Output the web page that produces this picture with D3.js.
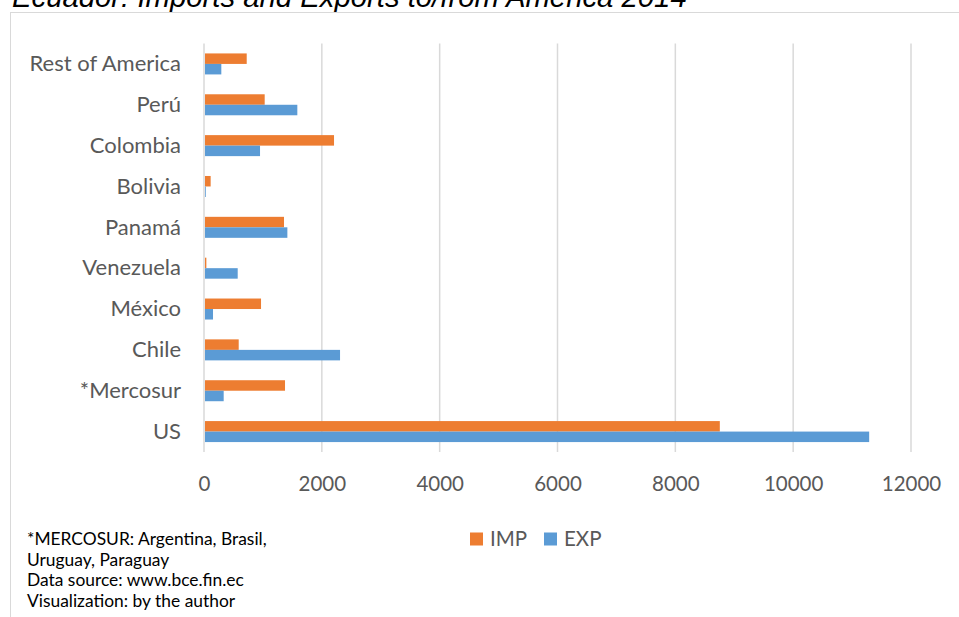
<!DOCTYPE html>
<html>
<head>
<meta charset="utf-8">
<script src="https://cdn.jsdelivr.net/npm/d3@7"></script>
<style>
  html, body { margin: 0; padding: 0; background: #ffffff; }
  svg { display: block; }
</style>
</head>
<body>
<svg id="chart" width="959" height="617"></svg>
<script>
// Ecuador trade with America, 2014 (values in millions of USD)
const categories = ["Rest of America", "Perú", "Colombia", "Bolivia", "Panamá",
                    "Venezuela", "México", "Chile", "*Mercosur", "US"];
const imports = [725, 1030, 2207, 113, 1358, 40, 968, 589, 1375, 8755];
const exports = [294, 1584, 951, 30, 1415, 572, 153, 2309, 334, 11290];
const seriesNames = ["IMP", "EXP"];
const seriesColors = ["#ED7D31", "#5B9BD5"];
const xTicks = [0, 2000, 4000, 6000, 8000, 10000, 12000];
const titleText = "Ecuador: Imports and Exports to/from America 2014";
const noteLines = ["*MERCOSUR: Argentina, Brasil,", "Uruguay, Paraguay",
                   "Data source: www.bce.fin.ec", "Visualization: by the author"];

const rows = categories.map((c, i) => ({ cat: c, IMP: imports[i], EXP: exports[i] }));

const svg = d3.select("#chart");
const font = "Lato, 'Open Sans', sans-serif";
const textColor = "#595959";

// Title (Arial italic) sits above the chart frame
svg.append("text")
  .attr("x", 12).attr("y", 7)
  .attr("font-family", "'Liberation Sans', Arial, sans-serif")
  .attr("font-style", "italic")
  .attr("font-size", 29.3)
  .attr("fill", "#000")
  .text(titleText);

// Chart frame
svg.append("rect")
  .attr("x", 10.5).attr("y", 12.5)
  .attr("width", 960).attr("height", 620)
  .attr("fill", "none").attr("stroke", "#d9d9d9").attr("stroke-width", 1);

const plot = { left: 204, right: 911, top: 43.5, bottom: 452 };

const x = d3.scaleLinear().domain([0, 12000]).range([plot.left, plot.right]);
const y = d3.scaleBand().domain(categories)
  .range([plot.top, plot.bottom]).paddingInner(0.486).paddingOuter(0.243);
const ySub = d3.scaleBand().domain(seriesNames).range([0, y.bandwidth()]);
const color = d3.scaleOrdinal().domain(seriesNames).range(seriesColors);

// Vertical gridlines
svg.append("g").selectAll("line").data(xTicks).join("line")
  .attr("x1", d => x(d)).attr("x2", d => x(d))
  .attr("y1", plot.top).attr("y2", plot.bottom)
  .attr("stroke", "#d9d9d9").attr("stroke-width", 1.5);

// Bars
const groups = svg.append("g").selectAll("g").data(rows).join("g")
  .attr("transform", d => `translate(0,${y(d.cat)})`);
groups.selectAll("rect")
  .data(d => seriesNames.map(k => ({ key: k, value: d[k] })))
  .join("rect")
  .attr("x", x(0) + 1)
  .attr("y", d => ySub(d.key))
  .attr("width", d => Math.max(0, x(d.value) - x(0) - 1))
  .attr("height", ySub.bandwidth())
  .attr("fill", d => color(d.key));

// Category axis labels
const yAxis = d3.axisLeft(y).tickSize(0).tickPadding(0);
const yG = svg.append("g").attr("transform", `translate(181,0)`).call(yAxis);
yG.select(".domain").remove();
yG.selectAll("text")
  .attr("font-family", font).attr("font-size", 22)
  .attr("fill", textColor).attr("dy", "0.33em");

// Value axis labels
const xAxis = d3.axisBottom(x).tickValues(xTicks).tickSize(0).tickPadding(0)
  .tickFormat(d3.format("d"));
const xG = svg.append("g").attr("transform", `translate(0,491)`).call(xAxis);
xG.select(".domain").remove();
xG.selectAll("text")
  .attr("font-family", font).attr("font-size", 20.5)
  .attr("fill", textColor).attr("dy", 0);

// Legend
const legend = svg.append("g").selectAll("g").data(seriesNames).join("g")
  .attr("transform", (d, i) => `translate(${[470, 544][i]},532.5)`);
legend.append("rect").attr("width", 13).attr("height", 13)
  .attr("fill", d => color(d));
legend.append("text").attr("x", 20).attr("y", 13.5)
  .attr("font-family", font).attr("font-size", 20.5)
  .attr("fill", textColor).text(d => d);

// Footnote
svg.append("g").selectAll("text").data(noteLines).join("text")
  .attr("x", 27).attr("y", (d, i) => 545 + i * 20.6)
  .attr("font-family", font).attr("font-size", 17.4)
  .attr("fill", "#000").text(d => d);
</script>
</body>
</html>
